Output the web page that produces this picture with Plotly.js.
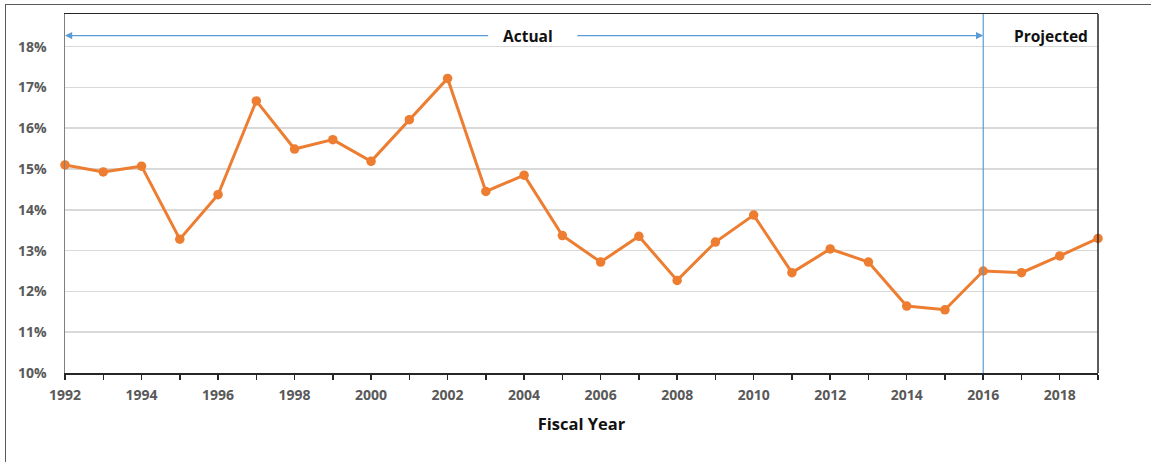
<!DOCTYPE html>
<html>
<head>
<meta charset="utf-8">
<script src="https://cdn.plot.ly/plotly-3.0.1.min.js"></script>
<style>
  html, body { margin: 0; padding: 0; background: #fff; }
  #wrap { position: relative; width: 1151px; height: 462px; overflow: hidden; }
  #frame { position: absolute; left: 5px; top: 4px; width: 1200px; height: 500px;
           border-left: 1.5px solid #5a5a5a; border-top: 1.5px solid #5a5a5a; pointer-events: none; }
  #chart { position: absolute; left: 0; top: 0; width: 1151px; height: 462px; }
</style>
</head>
<body>
<div id="wrap">
  <div id="chart"></div>
  <div id="frame"></div>
</div>
<script>
// Fiscal years and the rate for each year (share of total)
const years = [1992, 1993, 1994, 1995, 1996, 1997, 1998, 1999, 2000, 2001,
               2002, 2003, 2004, 2005, 2006, 2007, 2008, 2009, 2010, 2011,
               2012, 2013, 2014, 2015, 2016, 2017, 2018, 2019];
const rates = [0.1510, 0.1493, 0.1507, 0.1328, 0.1437, 0.1667, 0.1549, 0.1572, 0.1519, 0.1621,
               0.1722, 0.1445, 0.1485, 0.1337, 0.1272, 0.1335, 0.1227, 0.1321, 0.1387, 0.1246,
               0.1304, 0.1272, 0.1164, 0.1155, 0.1250, 0.1246, 0.1287, 0.1330];

// Axis ticks
const yTicks = [0.10, 0.11, 0.12, 0.13, 0.14, 0.15, 0.16, 0.17, 0.18];
const xTickLabels = years.map(y => (y % 2 === 0 && y < 2019) ? String(y) : '');

// Period boundary and labels
const splitYear = 2016;
const periodLabels = ['Actual', 'Projected'];

const FONT = '"Open Sans", "Liberation Sans", sans-serif';
const BLUE = '#5b9bd5';
const ORANGE = '#ed7d31';
const arrowY = 0.1827;

const trace = {
  x: years,
  y: rates,
  type: 'scatter',
  mode: 'lines+markers',
  line: { color: ORANGE, width: 3 },
  marker: { color: ORANGE, size: 9.5 },
  cliponaxis: false,
  hoverinfo: 'x+y'
};

const layout = {
  width: 1151,
  height: 462,
  margin: { l: 65, r: 53, t: 14, b: 89 },
  paper_bgcolor: '#ffffff',
  plot_bgcolor: '#ffffff',
  showlegend: false,
  font: { family: FONT, color: '#595959' },
  xaxis: {
    range: [1992, 2019],
    tickvals: years,
    ticktext: xTickLabels,
    ticks: 'outside',
    ticklen: 5,
    tickwidth: 1.5,
    tickcolor: '#262626',
    ticklabelstandoff: 4,
    showgrid: false,
    zeroline: false,
    showline: true,
    linecolor: '#262626',
    linewidth: 1.5,
    mirror: true,
    tickfont: { family: FONT, size: 14, color: '#595959', weight: 'bold' },
    title: {
      text: '<b>Fiscal Year</b>',
      font: { family: FONT, size: 16.5, color: '#111111' },
      standoff: 15
    }
  },
  yaxis: {
    range: [0.10, 0.188],
    tickvals: yTicks,
    tickformat: '.0%',
    ticks: '',
    ticklabelstandoff: 14,
    showgrid: true,
    gridcolor: '#d9d9d9',
    gridwidth: 1.5,
    zeroline: false,
    showline: true,
    linecolor: '#7f7f7f',
    linewidth: 1.5,
    tickfont: { family: FONT, size: 14, color: '#595959', weight: 'bold' }
  },
  shapes: [
    // right edge of the plot area
    { type: 'line', xref: 'paper', yref: 'paper', x0: 1, x1: 1, y0: 0, y1: 1,
      line: { color: '#262626', width: 1.5 } },
    // boundary between actual and projected years
    { type: 'line', xref: 'x', yref: 'paper', x0: splitYear, x1: splitYear, y0: 0, y1: 1,
      line: { color: BLUE, width: 1.2 } }
  ],
  annotations: [
    // double-headed span over the actual period, split around its label
    { x: 1992, y: arrowY, ax: 2003.1, ay: arrowY, xref: 'x', yref: 'y', axref: 'x', ayref: 'y',
      text: '', showarrow: true, arrowhead: 2, arrowsize: 1.2, arrowwidth: 1.2, arrowcolor: BLUE },
    { x: splitYear, y: arrowY, ax: 2005.35, ay: arrowY, xref: 'x', yref: 'y', axref: 'x', ayref: 'y',
      text: '', showarrow: true, arrowhead: 2, arrowsize: 1.2, arrowwidth: 1.2, arrowcolor: BLUE },
    { x: 2004.1, y: arrowY, xref: 'x', yref: 'y', text: '<b>' + periodLabels[0] + '</b>',
      showarrow: false, font: { family: FONT, size: 15.5, color: '#111111' } },
    { x: 0.9925, y: arrowY, xref: 'paper', yref: 'y', text: '<b>' + periodLabels[1] + '</b>',
      showarrow: false, xanchor: 'right', font: { family: FONT, size: 15.5, color: '#111111' } }
  ]
};

Plotly.newPlot('chart', [trace], layout, { displayModeBar: false, staticPlot: true });
</script>
</body>
</html>
